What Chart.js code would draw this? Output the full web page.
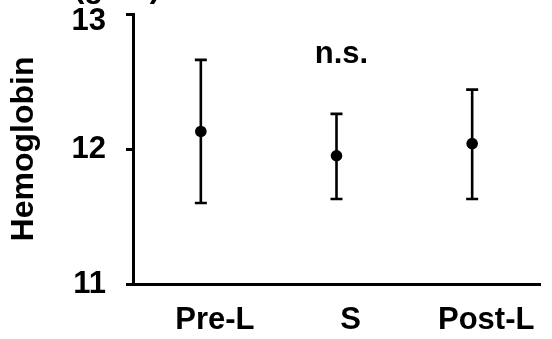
<!DOCTYPE html>
<html>
<head>
<meta charset="utf-8">
<script src="https://cdn.jsdelivr.net/npm/chart.js@4"></script>
<style>
  html, body { margin: 0; padding: 0; background: #fff; }
  #wrap { width: 552px; height: 339px; position: relative; }
</style>
</head>
<body>
<div id="wrap"><canvas id="c" width="552" height="339"></canvas></div>
<script>
// Hemoglobin (g/dL) at three time points: mean with error range
const categories = ['Pre-L', 'S', 'Post-L'];
const means = [12.13, 11.95, 12.04];
const upper = [12.66, 12.26, 12.44];
const lower = [11.60, 11.63, 11.63];
const yTicks = [11, 12, 13];
const sigLabel = 'n.s.';
const yTitle = 'Hemoglobin';
const yUnit = '(g/dL)';

const FONT = "'Liberation Sans', Arial, sans-serif";
const Y_MAX = 13;

// whiskers with caps, drawn under the mean markers
const errorBars = {
  id: 'errorBars',
  beforeDatasetsDraw(chart) {
    const { ctx, scales: { x, y } } = chart;
    ctx.save();
    ctx.strokeStyle = '#000';
    ctx.lineWidth = 2.6;
    ctx.lineCap = 'butt';
    categories.forEach((c, i) => {
      const px = x.getPixelForValue(i);
      const yt = y.getPixelForValue(upper[i]);
      const yb = y.getPixelForValue(lower[i]);
      ctx.beginPath();
      ctx.moveTo(px, yt); ctx.lineTo(px, yb);
      ctx.moveTo(px - 6, yt); ctx.lineTo(px + 6, yt);
      ctx.moveTo(px - 6, yb); ctx.lineTo(px + 6, yb);
      ctx.stroke();
    });
    ctx.restore();
  }
};

// significance note over the middle group and the unit above the y axis
const notes = {
  id: 'notes',
  afterDraw(chart) {
    const { ctx, scales: { x, y } } = chart;
    ctx.save();
    ctx.fillStyle = '#000';
    ctx.font = 'bold 31px ' + FONT;
    ctx.textAlign = 'center';
    ctx.textBaseline = 'alphabetic';
    ctx.fillText(sigLabel, x.getPixelForValue(1) + 5, y.getPixelForValue(12.64));
    ctx.textAlign = 'left';
    ctx.fillText(yUnit, 74, -3);
    ctx.restore();
  }
};

new Chart(document.getElementById('c'), {
  type: 'line',
  data: {
    labels: categories,
    datasets: [{
      data: means,
      showLine: false,
      pointRadius: 5.8,
      pointHoverRadius: 5.8,
      pointBackgroundColor: '#000',
      pointBorderColor: '#000',
      pointBorderWidth: 0
    }]
  },
  options: {
    responsive: false,
    animation: false,
    events: [],
    layout: { padding: { left: 0, right: 12, top: 14, bottom: 0 } },
    plugins: { legend: { display: false }, tooltip: { enabled: false } },
    scales: {
      x: {
        type: 'category',
        offset: true,
        grid: { display: false, drawTicks: false },
        border: { display: true, color: '#000', width: 3 },
        ticks: {
          color: '#000',
          font: { family: FONT, size: 31, weight: 'bold' },
          padding: 18,
          labelOffset: 14,
          maxRotation: 0,
          autoSkip: false
        },
        afterFit(s) { s.height = 55; s.paddingLeft = 0; s.paddingRight = 0; }
      },
      y: {
        min: 11,
        max: Y_MAX,
        afterBuildTicks(s) { s.ticks = yTicks.map(v => ({ value: v })); },
        grid: {
          display: true,
          drawOnChartArea: false,
          drawTicks: true,
          tickLength: 7,
          tickWidth: 3,
          tickColor: '#000'
        },
        border: { display: true, color: '#000', width: 3 },
        ticks: {
          color: '#000',
          // the top label sits a little below its tick so it stays on the canvas
          callback: v => (v === Y_MAX ? ['', String(v)] : String(v)),
          font: c => ({
            family: FONT, size: 31, weight: 'bold',
            lineHeight: (c.tick && c.tick.value === Y_MAX) ? 0.5 : 1.2
          }),
          padding: 20
        },
        title: {
          display: true,
          text: yTitle,
          color: '#000',
          font: { family: FONT, size: 32, weight: 'bold' },
          padding: { top: 5, bottom: 0 }
        },
        afterFit(s) { s.width = 133; s.paddingTop = 0; s.paddingBottom = 0; }
      }
    }
  },
  plugins: [errorBars, notes]
});
</script>
</body>
</html>
